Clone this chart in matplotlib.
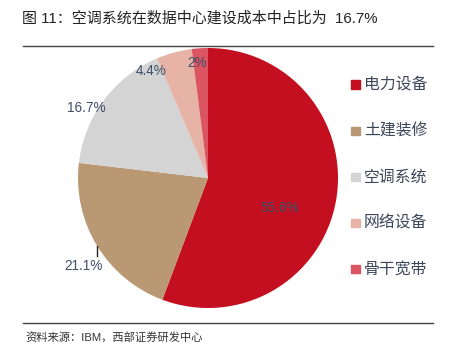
import matplotlib
matplotlib.use("Agg")
import matplotlib.pyplot as plt
import numpy as np
from matplotlib.lines import Line2D

plt.rcParams['font.family'] = ['Liberation Sans', 'Noto Sans CJK SC', 'DejaVu Sans']

categories = ['电力设备', '土建装修', '空调系统', '网络设备', '骨干宽带']
values = [55.6, 21.1, 16.7, 4.4, 2.0]
labels = ['55.6%', '21.1%', '16.7%', '4.4%', '2%']
colors = ['#C30F1F', '#B99873', '#D4D4D4', '#E8B3A7', '#DA5462']
title = '图 11：空调系统在数据中心建设成本中占比为  16.7%'
source = '资料来源：IBM，西部证券研发中心'

W, H = 449, 357
fig = plt.figure(figsize=(W / 100, H / 100), dpi=100)

cx, cy, R = 208, 178, 130
ax = fig.add_axes([(cx - R) / W, (H - cy - R) / H, 2 * R / W, 2 * R / H])
wedges, _ = ax.pie(values, colors=colors, startangle=90, counterclock=False,
                   radius=1.0, wedgeprops=dict(linewidth=0))
ax.set_xlim(-1, 1)
ax.set_ylim(-1, 1)
ax.set_aspect('equal')
ax.axis('off')

label_color = '#3E4F6B'
# (radial distance, angle offset in degrees) for each label
place = [(0.60, -12), (1.17, 4), (1.08, 7), (0.93, 13), (0.89, 2)]
for w, lab, (r, off) in zip(wedges, labels, place):
    theta = np.deg2rad((w.theta1 + w.theta2) / 2 + off)
    ax.text(r * np.cos(theta), r * np.sin(theta), lab, ha='center', va='center',
            fontsize=9.8, color=label_color)

# leader tick for 21.1%
w = wedges[1]
t = np.deg2rad((w.theta1 + w.theta2) / 2)
x0, y0 = np.cos(t), np.sin(t)
ax.plot([x0, x0], [y0, y0 - 0.08], color='#222222', lw=1.0, clip_on=False)

# title
fig.text(22 / W, 1 - 18 / H, title, ha='left', va='center', fontsize=10.8, color='#222222')
fig.add_artist(Line2D([23 / W, 433 / W], [1 - 46 / H, 1 - 46 / H], color='#444444', lw=1.0))
fig.add_artist(Line2D([23 / W, 433 / W], [1 - 323 / H, 1 - 323 / H], color='#444444', lw=1.0))
fig.text(25 / W, 1 - 338 / H, source, ha='left', va='center', fontsize=8.1, color='#333333')

# legend
for i, (cat, col) in enumerate(zip(categories, colors)):
    y = 84.5 + i * 46.2
    fig.patches.append(plt.Rectangle((351 / W, 1 - (y + 4) / H), 9 / W, 8 / H,
                                     transform=fig.transFigure, color=col))
    fig.text(364 / W, 1 - y / H, cat, ha='left', va='center', fontsize=11.4,
             color='#3A4658')

fig.savefig('out.png', dpi=100)
